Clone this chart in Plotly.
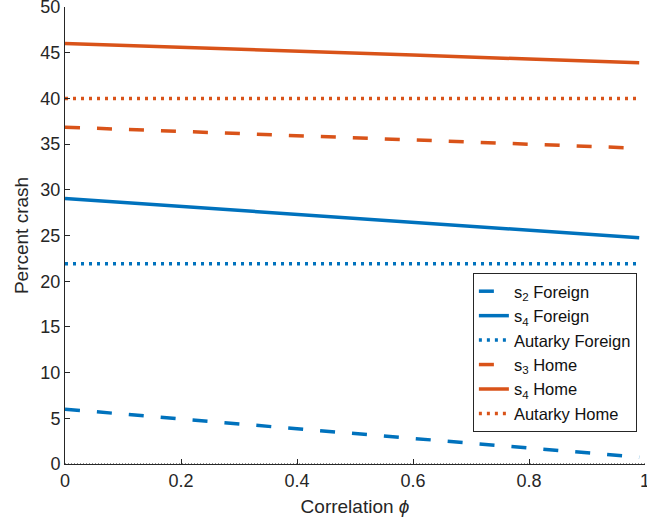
import plotly.graph_objects as go

# Data
phi = [0.0, 0.2, 0.4, 0.6, 0.8, 0.99]
s2_foreign = [6.0, 4.9, 3.85, 2.8, 1.75, 0.75]
s4_foreign = [29.05, 28.2, 27.35, 26.5, 25.6, 24.75]
autarky_foreign = [21.9, 21.9, 21.9, 21.9, 21.9, 21.9]
s3_home = [36.85, 36.4, 35.95, 35.5, 35.0, 34.55]
s4_home = [46.0, 45.6, 45.15, 44.75, 44.3, 43.9]
autarky_home = [40.0, 40.0, 40.0, 40.0, 40.0, 40.0]

x_ticks = [0, 0.2, 0.4, 0.6, 0.8, 1]
y_ticks = [0, 5, 10, 15, 20, 25, 30, 35, 40, 45, 50]

BLUE = "#0072BD"
ORANGE = "#D95319"
FONT = "Liberation Sans, Arial, Helvetica, sans-serif"
W = 3.5

fig = go.Figure()
series = [
    ("s<sub>2</sub> Foreign", s2_foreign, BLUE, "15px,17px"),
    ("s<sub>4</sub> Foreign", s4_foreign, BLUE, "solid"),
    ("Autarky Foreign", autarky_foreign, BLUE, "3px,5px"),
    ("s<sub>3</sub> Home", s3_home, ORANGE, "15px,17px"),
    ("s<sub>4</sub> Home", s4_home, ORANGE, "solid"),
    ("Autarky Home", autarky_home, ORANGE, "3px,5px"),
]
fig.add_trace(go.Scatter(x=[0, 1], y=[0, 0], mode="lines",
                         line=dict(color="#222222", width=1, dash="1px,2px"),
                         showlegend=False, hoverinfo="skip"))
for name, ys, col, dash in series:
    fig.add_trace(go.Scatter(x=phi, y=ys, mode="lines", name=name,
                             line=dict(color=col, width=W, dash=dash)))

fig.update_layout(
    width=647, height=522,
    margin=dict(l=65, r=2, t=7, b=58, autoexpand=False),
    paper_bgcolor="white", plot_bgcolor="white",
    font=dict(family=FONT, size=18, color="#262626"),
    legend=dict(x=0.986, y=0.418, xanchor="right", yanchor="top",
                bgcolor="white", bordercolor="#262626", borderwidth=1,
                font=dict(size=16.5, color="#111111"), tracegroupgap=0,
                itemwidth=30),
    showlegend=True,
)
fig.update_xaxes(range=[0, 1], tickvals=x_ticks,
                 ticktext=["0", "0.2", "0.4", "0.6", "0.8", "1"],
                 ticks="inside", ticklen=5, tickcolor="#262626",
                 showline=True, linecolor="#262626", linewidth=1,
                 showgrid=False, zeroline=False, automargin=False,
                 ticklabeloverflow="allow",
                 title=dict(text="Correlation <i>ϕ</i>", standoff=10,
                            font=dict(size=19)),
                 tickfont=dict(size=18))
fig.update_yaxes(range=[0, 50], tickvals=y_ticks,
                 ticks="inside", ticklen=5, tickcolor="#262626",
                 showline=True, linecolor="#262626", linewidth=1,
                 showgrid=False, zeroline=False, automargin=False,
                 ticklabeloverflow="allow",
                 title=dict(text="Percent crash", standoff=6,
                            font=dict(size=19)),
                 tickfont=dict(size=18))

fig.write_html("out.html", config={"displayModeBar": False},
               post_script="document.body.style.margin='0';document.body.style.padding='0';")
